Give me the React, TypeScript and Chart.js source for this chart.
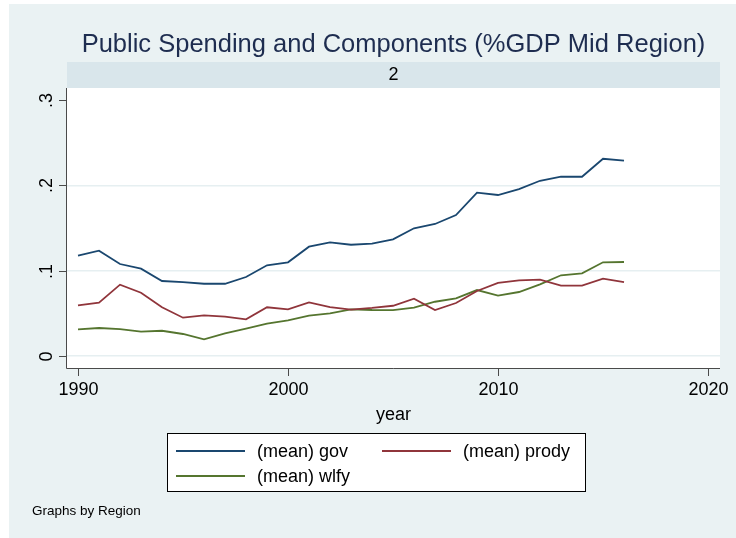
import React, { useEffect, useRef } from "react";
import { Chart, registerables } from "chart.js";

Chart.register(...registerables);

const years = [1990, 1991, 1992, 1993, 1994, 1995, 1996, 1997, 1998, 1999, 2000, 2001, 2002, 2003, 2004, 2005, 2006, 2007, 2008, 2009, 2010, 2011, 2012, 2013, 2014, 2015, 2016];
const gov = [0.1175, 0.1234, 0.1078, 0.1023, 0.0879, 0.0867, 0.0847, 0.0847, 0.0926, 0.1063, 0.1098, 0.1281, 0.1332, 0.1304, 0.1316, 0.1368, 0.1497, 0.1547, 0.1652, 0.1914, 0.1887, 0.1957, 0.2054, 0.2101, 0.2101, 0.2312, 0.2289];
const prody = [0.0594, 0.0625, 0.0836, 0.0742, 0.0571, 0.0449, 0.0477, 0.0461, 0.043, 0.0571, 0.0547, 0.0629, 0.0574, 0.0543, 0.0563, 0.0589, 0.0672, 0.0539, 0.0621, 0.0762, 0.0856, 0.0887, 0.0894, 0.0824, 0.0824, 0.0906, 0.0867];
const wlfy = [0.0313, 0.0328, 0.0316, 0.0285, 0.0296, 0.0258, 0.0196, 0.0266, 0.032, 0.0379, 0.0418, 0.0472, 0.05, 0.0547, 0.0539, 0.0537, 0.0566, 0.0636, 0.0676, 0.0773, 0.0707, 0.075, 0.084, 0.0946, 0.0969, 0.1098, 0.1102];

const seriesNames = ["(mean) gov", "(mean) prody", "(mean) wlfy"];
const seriesColors = ["#1a476f", "#90353b", "#55752f"];
const yTicks = [0, 0.1, 0.2, 0.3];
const yTickLabels = ["0", ".1", ".2", ".3"];
const xTicks = [1990, 2000, 2010, 2020];
const xTickLabels = ["1990", "2000", "2010", "2020"];
const titleText = "Public Spending and Components (%GDP Mid Region)";
const stripText = "2";
const xTitle = "year";
const noteText = "Graphs by Region";

const FONT = "'Liberation Sans', Arial, sans-serif";

const decorPlugin = {
  id: "stataDecor",
  beforeDraw(chart: any) {
    const { ctx, chartArea } = chart;
    ctx.save();
    ctx.fillStyle = "#ffffff";
    ctx.fillRect(0, 0, chart.width, chart.height);
    ctx.fillStyle = "#eaf2f3";
    ctx.fillRect(9, 4, chart.width - 9, chart.height - 4);
    ctx.fillStyle = "#ffffff";
    ctx.fillRect(chartArea.left, chartArea.top, chartArea.right - chartArea.left, chartArea.bottom - chartArea.top);
    ctx.fillStyle = "#d9e6eb";
    ctx.fillRect(chartArea.left, 62, chartArea.right - chartArea.left, chartArea.top - 62);
    ctx.restore();
  },
  afterDraw(chart: any) {
    const { ctx, chartArea } = chart;
    const xs = chart.scales.x;
    const ys = chart.scales.y;
    const cx = (chartArea.left + chartArea.right) / 2;
    ctx.save();
    ctx.fillStyle = "#1e2d50";
    ctx.font = `25.5px ${FONT}`;
    ctx.textAlign = "center";
    ctx.textBaseline = "alphabetic";
    ctx.fillText(titleText, cx, 52);
    ctx.fillStyle = "#000000";
    ctx.font = `18px ${FONT}`;
    ctx.textBaseline = "middle";
    ctx.fillText(stripText, cx, 75);
    ctx.strokeStyle = "#4a4a4a";
    ctx.lineWidth = 1;
    ctx.beginPath();
    ctx.moveTo(chartArea.left - 0.5, chartArea.top);
    ctx.lineTo(chartArea.left - 0.5, chartArea.bottom + 0.5);
    ctx.lineTo(chartArea.right, chartArea.bottom + 0.5);
    ctx.stroke();
    ctx.font = `18px ${FONT}`;
    yTicks.forEach((v, i) => {
      const y = Math.round(ys.getPixelForValue(v)) + 0.5;
      ctx.beginPath();
      ctx.moveTo(chartArea.left - 8, y);
      ctx.lineTo(chartArea.left, y);
      ctx.stroke();
      ctx.save();
      ctx.translate(52, y);
      ctx.rotate(-Math.PI / 2);
      ctx.textAlign = "center";
      ctx.textBaseline = "alphabetic";
      ctx.fillStyle = "#000000";
      ctx.fillText(yTickLabels[i], 0, 0);
      ctx.restore();
    });
    xTicks.forEach((v, i) => {
      const x = Math.round(xs.getPixelForValue(v)) + 0.5;
      ctx.beginPath();
      ctx.moveTo(x, chartArea.bottom);
      ctx.lineTo(x, chartArea.bottom + 8);
      ctx.stroke();
      ctx.fillStyle = "#000000";
      ctx.textAlign = "center";
      ctx.textBaseline = "middle";
      ctx.fillText(xTickLabels[i], x, 390);
    });
    ctx.fillText(xTitle, cx, 415);
    const lx = 167, ly = 433, lw = 419, lh = 59;
    ctx.fillStyle = "#ffffff";
    ctx.fillRect(lx, ly, lw, lh);
    ctx.strokeStyle = "#000000";
    ctx.lineWidth = 1;
    ctx.strokeRect(lx + 0.5, ly + 0.5, lw - 1, lh - 1);
    const entries = [
      { x: 176, y: 451 },
      { x: 382, y: 451 },
      { x: 176, y: 476 },
    ];
    entries.forEach((e, i) => {
      ctx.strokeStyle = seriesColors[i];
      ctx.lineWidth = 2;
      ctx.beginPath();
      ctx.moveTo(e.x, e.y);
      ctx.lineTo(e.x + 69, e.y);
      ctx.stroke();
      ctx.fillStyle = "#000000";
      ctx.textAlign = "left";
      ctx.textBaseline = "middle";
      ctx.font = `18px ${FONT}`;
      ctx.fillText(seriesNames[i], e.x + 81, e.y + 1);
    });
    ctx.font = `13.5px ${FONT}`;
    ctx.fillText(noteText, 32, 511);
    ctx.restore();
  },
};

export default function App() {
  const ref = useRef<HTMLCanvasElement>(null);
  useEffect(() => {
    if (!ref.current) return;
    const mk = (vals: number[]) => years.map((y, i) => ({ x: y, y: vals[i] }));
    const allSeries = [gov, prody, wlfy];
    const chart = new Chart(ref.current, {
      type: "line",
      data: {
        datasets: allSeries.map((s, i) => ({
          label: seriesNames[i],
          data: mk(s),
          borderColor: seriesColors[i],
          backgroundColor: seriesColors[i],
          borderWidth: 1.8,
          pointRadius: 0,
          tension: 0,
          fill: false,
        })),
      },
      options: {
        responsive: false,
        animation: false,
        layout: { padding: { left: 67, top: 88, right: 16, bottom: 170 } },
        plugins: {
          legend: { display: false },
          title: { display: false },
          tooltip: { enabled: false },
        },
        scales: {
          x: {
            type: "linear",
            min: 1989.476,
            max: 2020.571,
            grid: { display: false, drawTicks: false },
            border: { display: false },
            ticks: { display: false },
            afterFit: (s: any) => { s.height = 0; },
          },
          y: {
            type: "linear",
            min: -0.01406,
            max: 0.3141,
            afterBuildTicks: (s: any) => { s.ticks = yTicks.map((v) => ({ value: v })); },
            grid: {
              drawTicks: false,
              lineWidth: 1.5,
              color: (c: any) => (c.tick && c.tick.value === 0.3 ? "rgba(0,0,0,0)" : "#e6eff1"),
            },
            border: { display: false },
            ticks: { display: false },
            afterFit: (s: any) => { s.width = 0; },
          },
        },
      },
      plugins: [decorPlugin],
    });
    return () => chart.destroy();
  }, []);
  return (
    <div style={{ position: "absolute", left: 0, top: 0, width: 736, height: 538 }}>
      <canvas ref={ref} width={736} height={538} style={{ display: "block" }} />
    </div>
  );
}
